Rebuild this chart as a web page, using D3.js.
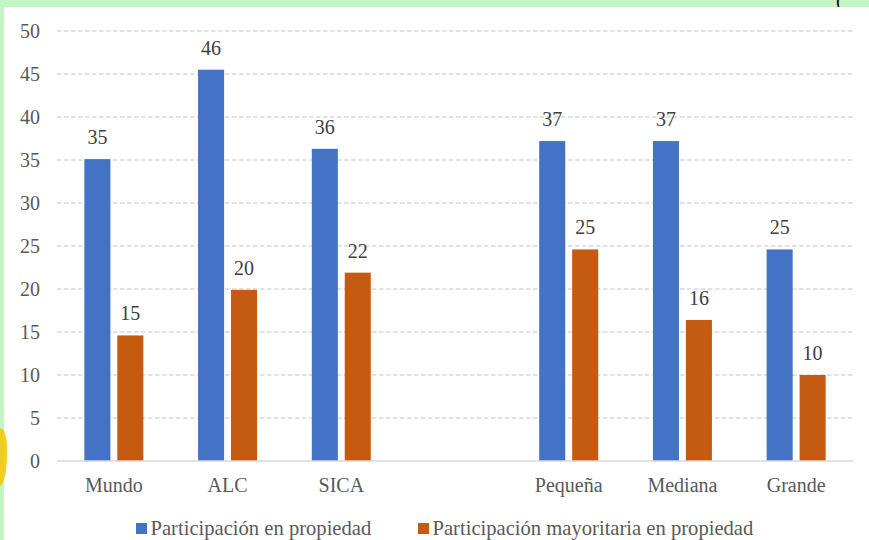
<!DOCTYPE html>
<html>
<head>
<meta charset="utf-8">
<script src="https://cdn.jsdelivr.net/npm/d3@7"></script>
<style>
  html, body { margin: 0; padding: 0; background: #c4f5c4; }
  svg { display: block; }
</style>
</head>
<body>
<div id="chart"></div>
<script>
// categories, "" is the empty gap slot between region and size groups
const categories = ["Mundo", "ALC", "SICA", "", "Pequeña", "Mediana", "Grande"];
const seriesNames = ["Participación en propiedad", "Participación mayoritaria en propiedad"];
const participacion = [35.1, 45.5, 36.3, null, 37.2, 37.2, 24.6];
const mayoritaria = [14.6, 19.9, 21.9, null, 24.6, 16.4, 10.0];
const yTicks = [0, 5, 10, 15, 20, 25, 30, 35, 40, 45, 50];
const colors = ["#4472c4", "#c55a11"];

const width = 869, height = 540;
const margins = {top: 31, right: 16, bottom: 79, left: 57};
const font = "Liberation Serif";
const fontSize = "20px";

const svg = d3.select("#chart")
  .append("svg")
  .attr("width", width)
  .attr("height", height);

// page decoration: green frame, white panel, stray bracket and yellow blob
svg.append("text")
  .attr("x", 836)
  .attr("y", 7)
  .style("font-family", font)
  .style("font-size", "20px")
  .attr("fill", "#111")
  .text("(");

svg.append("rect")
  .attr("x", 4).attr("y", 7)
  .attr("width", width - 4).attr("height", height - 7)
  .attr("fill", "#fff");

svg.append("rect")
  .attr("x", 0).attr("y", 0)
  .attr("width", 4).attr("height", 430)
  .attr("fill", "#c4f5c4");

svg.append("path")
  .attr("d", "M0,428 C6,430 8,440 7,460 C6,475 4,483 0,486 Z")
  .attr("fill", "#f7c500")
  .attr("opacity", 0.85);

const data = [];
categories.forEach((c, i) => {
  if (c === "") return;
  data.push({cat: c, series: seriesNames[0], value: participacion[i]});
  data.push({cat: c, series: seriesNames[1], value: mayoritaria[i]});
});

const xScale = d3.scaleBand()
  .domain(categories.map(c => c === "" ? "_gap" : c))
  .range([margins.left, width - margins.right]);

const x1 = d3.scaleBand()
  .domain(seriesNames)
  .range([0, xScale.bandwidth()])
  .paddingInner(0.21)
  .paddingOuter(0.83);

const yScale = d3.scaleLinear()
  .domain([0, 50])
  .range([height - margins.bottom, margins.top]);

const color = d3.scaleOrdinal().domain(seriesNames).range(colors);

// gridlines
svg.append("g")
  .selectAll("line")
  .data(yTicks.filter(d => d > 0))
  .join("line")
    .attr("x1", margins.left)
    .attr("x2", width - margins.right)
    .attr("y1", d => yScale(d))
    .attr("y2", d => yScale(d))
    .attr("stroke", "#d9d9d9")
    .attr("stroke-width", 1.3)
    .attr("stroke-dasharray", "4.5,2.5");

// bars
svg.append("g")
  .selectAll("rect")
  .data(data)
  .join("rect")
    .attr("x", d => xScale(d.cat) + x1(d.series))
    .attr("y", d => yScale(d.value))
    .attr("width", x1.bandwidth())
    .attr("height", d => yScale(0) - yScale(d.value))
    .attr("fill", d => color(d.series));

// value labels
svg.append("g")
  .selectAll("text")
  .data(data)
  .join("text")
    .attr("x", d => xScale(d.cat) + x1(d.series) + x1.bandwidth() / 2)
    .attr("y", d => yScale(d.value) - 15)
    .attr("text-anchor", "middle")
    .style("font-family", font)
    .style("font-size", fontSize)
    .attr("fill", "#404040")
    .text(d => Math.round(d.value));

// zero line
svg.append("line")
  .attr("x1", margins.left)
  .attr("x2", width - margins.right)
  .attr("y1", yScale(0))
  .attr("y2", yScale(0))
  .attr("stroke", "#d9d9d9")
  .attr("stroke-width", 1.5);

// y axis
const yAxis = d3.axisLeft(yScale).tickValues(yTicks).tickSize(0).tickPadding(17);
svg.append("g")
  .attr("transform", `translate(${margins.left},0)`)
  .call(yAxis)
  .call(g => g.select(".domain").remove())
  .call(g => g.selectAll("text")
    .style("font-family", font)
    .style("font-size", fontSize)
    .attr("fill", "#595959"));

// x axis
const xAxis = d3.axisBottom(xScale).tickSize(0).tickPadding(17)
  .tickFormat(d => d === "_gap" ? "" : d);
svg.append("g")
  .attr("transform", `translate(0,${yScale(0)})`)
  .call(xAxis)
  .call(g => g.select(".domain").remove())
  .call(g => g.selectAll("text")
    .style("font-family", font)
    .style("font-size", fontSize)
    .attr("fill", "#595959"));

// legend
const legendX = [136, 418];
const legend = svg.append("g")
  .selectAll("g")
  .data(seriesNames)
  .join("g")
    .attr("transform", (d, i) => `translate(${legendX[i]},523)`);

legend.append("rect")
  .attr("width", 11)
  .attr("height", 11)
  .attr("fill", d => color(d));

legend.append("text")
  .attr("x", 14.5)
  .attr("y", 12)
  .style("font-family", font)
  .style("font-size", "20.6px")
  .attr("fill", "#595959")
  .text(d => d);
</script>
</body>
</html>
